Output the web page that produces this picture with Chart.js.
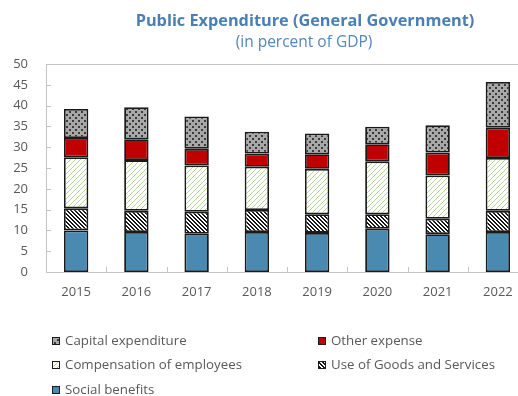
<!DOCTYPE html>
<html>
<head>
<meta charset="utf-8">
<script src="https://cdn.jsdelivr.net/npm/chart.js@4/dist/chart.umd.min.js"></script>
<style>
  html, body { margin: 0; padding: 0; overflow: hidden; background: #ffffff; }
  canvas { display: block; }
</style>
</head>
<body>
<canvas id="chart" width="540" height="396"></canvas>
<script>
// Categories
const years = ['2015', '2016', '2017', '2018', '2019', '2020', '2021', '2022'];

// Series values, percent of GDP (stacked bottom to top)
const socialBenefits     = [10.0, 9.6, 9.2, 9.6, 9.4, 10.4, 9.1, 9.6];
const goodsAndServices   = [5.3, 5.1, 5.3, 5.3, 4.5, 3.5, 3.7, 5.1];
const compensation       = [12.3, 12.2, 11.1, 10.4, 10.9, 12.7, 10.4, 12.7];
const otherExpense       = [4.6, 5.0, 4.0, 3.2, 3.5, 4.1, 5.5, 7.3];
const capitalExpenditure = [7.0, 7.7, 7.8, 5.2, 5.0, 4.2, 6.6, 11.0];

// Value axis range
const yMin = 0, yMax = 50, yStep = 5;

const titleText = 'Public Expenditure (General Government)';
const subtitleText = '(in percent of GDP)';

// ---- fill patterns ----
function makePattern(size, paint) {
  const c = document.createElement('canvas');
  c.width = size; c.height = size;
  const g = c.getContext('2d');
  paint(g, size);
  return g.createPattern(c, 'repeat');
}

const dotsGray = makePattern(6, (g, s) => {
  g.fillStyle = '#a8a8a8'; g.fillRect(0, 0, s, s);
  g.fillStyle = '#3c3c3c';
  g.fillRect(0, 0, 2, 2);
  g.fillRect(3, 3, 2, 2);
});

const hatchGreen = makePattern(5, (g, s) => {
  g.fillStyle = '#ffffff'; g.fillRect(0, 0, s, s);
  g.fillStyle = '#b3d69b';
  for (let x = 0; x < s; x++) g.fillRect(x, s - 1 - x, 1, 1);
});

const hatchBlack = makePattern(4, (g, s) => {
  g.fillStyle = '#ffffff'; g.fillRect(0, 0, s, s);
  g.fillStyle = '#1a1a1a';
  for (let x = 0; x < s; x++) {
    g.fillRect(x, x, 1, 1);
    g.fillRect((x + 1) % s, x, 1, 1);
  }
});

const solidRed = '#c00000';
const solidBlue = '#4a89b0';

const axisColor = '#c4c4c4';
const textColor = '#595959';
const fontFamily = '"Open Sans", "Noto Sans", sans-serif';

function barSet(label, data, fill) {
  return {
    label, data,
    backgroundColor: fill,
    borderColor: '#1a1a1a',
    borderWidth: 1.8,
    borderSkipped: false,
    barPercentage: 0.405,
    categoryPercentage: 1.0,
    stack: 'spend'
  };
}

const datasets = [
  barSet('Social benefits', socialBenefits, solidBlue),
  barSet('Use of Goods and Services', goodsAndServices, hatchBlack),
  barSet('Compensation of employees', compensation, hatchGreen),
  barSet('Other expense', otherExpense, solidRed),
  barSet('Capital expenditure', capitalExpenditure, dotsGray)
];

// Legend arrangement: two columns, read left to right
const legendOrder = [
  'Capital expenditure', 'Other expense',
  'Compensation of employees', 'Use of Goods and Services',
  'Social benefits'
];

// Titles, frame line, inside tick marks and the two-column legend
const decorations = {
  id: 'decorations',
  afterDraw(chart) {
    const ctx = chart.ctx;
    const area = chart.chartArea;
    const xs = chart.scales.x;
    const ys = chart.scales.y;
    ctx.save();

    // frame line along the top of the plot
    ctx.strokeStyle = axisColor;
    ctx.lineWidth = 1;
    ctx.beginPath();
    ctx.moveTo(area.left, Math.round(area.top) + 0.5);
    ctx.lineTo(chart.width, Math.round(area.top) + 0.5);
    ctx.stroke();

    // inside tick marks on the value axis
    ctx.beginPath();
    ys.ticks.forEach(t => {
      const py = Math.round(ys.getPixelForValue(t.value)) + 0.5;
      ctx.moveTo(area.left, py);
      ctx.lineTo(area.left + 5, py);
    });
    // inside tick marks between categories
    for (let i = 1; i < years.length; i++) {
      const px = Math.round((xs.getPixelForValue(i - 1) + xs.getPixelForValue(i)) / 2) + 0.5;
      ctx.moveTo(px, area.bottom);
      ctx.lineTo(px, area.bottom - 5);
    }
    ctx.stroke();

    // titles
    ctx.textAlign = 'center';
    ctx.textBaseline = 'alphabetic';
    ctx.fillStyle = '#4a7fb3';
    ctx.font = 'bold 16.3px ' + fontFamily;
    ctx.fillText(titleText, 305, 25.5);
    ctx.fillStyle = '#5288bd';
    ctx.font = '15.5px ' + fontFamily;
    ctx.fillText(subtitleText, 304, 47);

    // legend
    const colX = [52, 318];
    const rowY = [341, 365, 390];
    ctx.font = '13.3px ' + fontFamily;
    ctx.textAlign = 'left';
    ctx.textBaseline = 'middle';
    legendOrder.forEach((name, k) => {
      const ds = datasets.find(d => d.label === name);
      const bx = colX[k % 2];
      const by = rowY[Math.floor(k / 2)];
      ctx.fillStyle = ds.backgroundColor;
      ctx.fillRect(bx, by - 4, 8, 8);
      ctx.strokeStyle = '#1c1c1c';
      ctx.lineWidth = 1;
      ctx.strokeRect(bx + 0.5, by - 3.5, 7, 7);
      ctx.fillStyle = textColor;
      ctx.fillText(name, bx + 13, by + 0.5);
    });
    ctx.restore();
  }
};

new Chart(document.getElementById('chart'), {
  type: 'bar',
  data: { labels: years, datasets },
  options: {
    responsive: false,
    devicePixelRatio: 1,
    animation: false,
    layout: { padding: { left: 0, top: 64, right: 12, bottom: 94 } },
    scales: {
      x: {
        stacked: true,
        afterFit(s) { s.height = 30; },
        grid: { display: false, drawTicks: false, tickLength: 0 },
        border: { display: true, color: axisColor, width: 1 },
        ticks: { padding: 12, color: textColor, font: { family: fontFamily, size: 13 } }
      },
      y: {
        stacked: true,
        min: yMin, max: yMax,
        afterFit(s) { s.width = 46; },
        grid: { display: false, drawTicks: false, tickLength: 0 },
        border: { display: true, color: axisColor, width: 1 },
        ticks: { stepSize: yStep, padding: 18, color: textColor, font: { family: fontFamily, size: 13 } }
      }
    },
    plugins: {
      legend: { display: false },
      tooltip: { enabled: false },
      title: { display: false }
    }
  },
  plugins: [decorations]
});
</script>
</body>
</html>
